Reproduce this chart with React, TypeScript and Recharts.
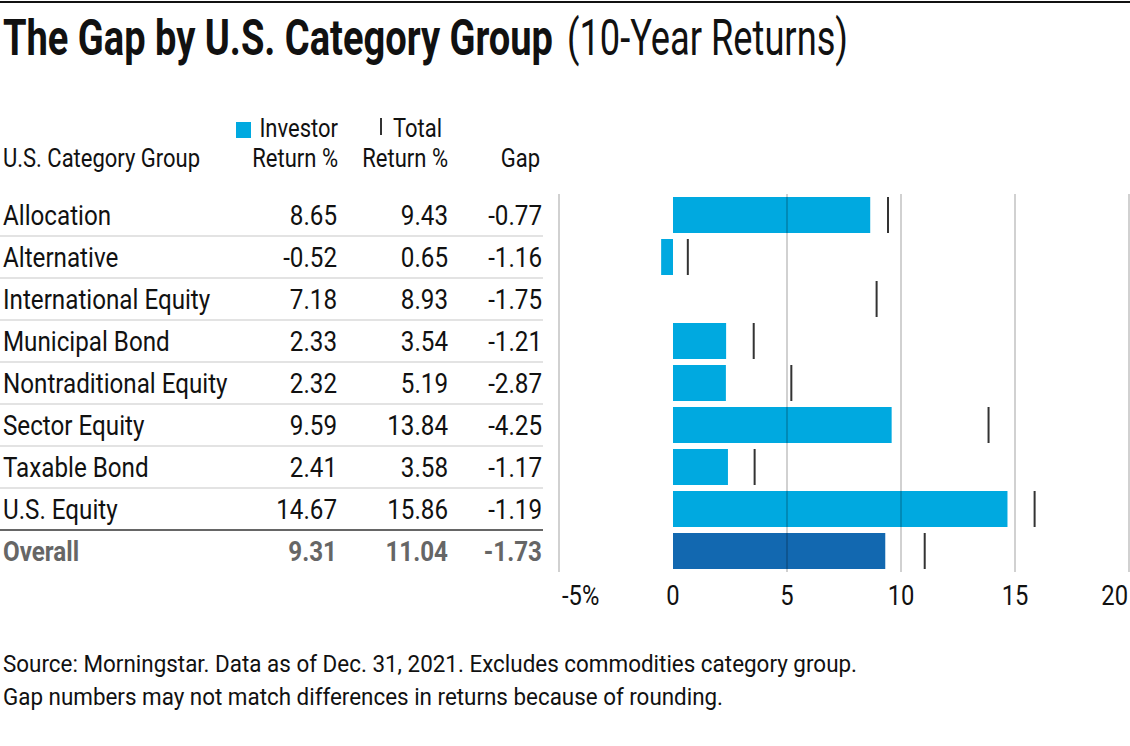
import React from "react";
import {
  ComposedChart,
  Bar,
  Cell,
  Scatter,
  XAxis,
  YAxis,
  ReferenceLine,
} from "recharts";

const categories = [
  "Allocation",
  "Alternative",
  "International Equity",
  "Municipal Bond",
  "Nontraditional Equity",
  "Sector Equity",
  "Taxable Bond",
  "U.S. Equity",
  "Overall",
];
const investorReturn = [8.65, -0.52, 7.18, 2.33, 2.32, 9.59, 2.41, 14.67, 9.31];
const totalReturn = [9.43, 0.65, 8.93, 3.54, 5.19, 13.84, 3.58, 15.86, 11.04];
const gapValues = [-0.77, -1.16, -1.75, -1.21, -2.87, -4.25, -1.17, -1.19, -1.73];
const xTicks = [-5, 0, 5, 10, 15, 20];
const gridValues = [-5, 5, 10, 15, 20];
// the source graphic shows no investor bar for this row
const missingBars = ["International Equity"];
const summaryRow = "Overall";

const rows = categories.map((name, i) => ({
  name,
  investor: investorReturn[i],
  total: totalReturn[i],
  gap: gapValues[i],
}));

const FONT = "Roboto, 'Noto Sans', sans-serif";
const BLUE = "#00A9E0";
const DARK_BLUE = "#1268B0";

function CText({
  x,
  y,
  anchor = "start",
  size = 27.5,
  weight = 400,
  fill = "#111",
  sx = 0.88,
  width,
  children,
}: any) {
  return (
    <text
      transform={`translate(${x},${y}) scale(${sx},1)`}
      textAnchor={anchor}
      fontSize={size}
      fontWeight={weight}
      fill={fill}
      fontFamily={FONT}
      textLength={width ? width / sx : undefined}
      lengthAdjust={width ? "spacingAndGlyphs" : undefined}
    >
      {children}
    </text>
  );
}

const fmt = (v: number) => v.toFixed(2);

function RowTick(props: any) {
  const { y, payload } = props;
  const i = categories.indexOf(payload.value);
  const row = rows[i];
  const isSummary = row.name === summaryRow;
  const fill = isSummary ? "#666" : "#111";
  const weight = isSummary ? 700 : 400;
  const base = y + 9.5;
  return (
    <g>
      <CText x={3} y={base} fill={fill} weight={weight}>
        {row.name}
      </CText>
      <CText x={337} y={base} anchor="end" fill={fill} weight={weight}>
        {fmt(row.investor)}
      </CText>
      <CText x={448} y={base} anchor="end" fill={fill} weight={weight}>
        {fmt(row.total)}
      </CText>
      <CText x={542} y={base} anchor="end" fill={fill} weight={weight}>
        {fmt(row.gap)}
      </CText>
      {i < rows.length - 1 && (
        <line
          x1={0}
          x2={543}
          y1={y + 21}
          y2={y + 21}
          stroke={i === rows.length - 2 ? "#333" : "#c8c8c8"}
          strokeWidth={i === rows.length - 2 ? 1.5 : 1.2}
        />
      )}
    </g>
  );
}

function XTick(props: any) {
  const { x, payload, index } = props;
  const first = index === 0;
  const last = index === xTicks.length - 1;
  const label = first ? `${payload.value}%` : `${payload.value}`;
  return (
    <CText
      x={first ? x + 3 : last ? x - 1 : x}
      y={605}
      anchor={first ? "start" : last ? "end" : "middle"}
      size={27}
    >
      {label}
    </CText>
  );
}

const TotalMark = (p: any) => (
  <rect x={p.cx - 1} y={p.cy - 18} width={2} height={36} fill="#333" />
);

export default function App() {
  return (
    <div
      style={{
        position: "absolute",
        left: 0,
        top: 0,
        width: 1130,
        height: 746,
        background: "#fff",
      }}
    >
      <svg
        width={1130}
        height={746}
        style={{ position: "absolute", left: 0, top: 0 }}
      >
        <rect x={0} y={1} width={1130} height={2} fill="#111" />
        <CText x={3} y={55} size={50} weight={700} sx={0.8} width={550}>
          The Gap by U.S. Category Group
        </CText>
        <CText x={567} y={55} size={50} sx={0.76} width={281}>
          (10-Year Returns)
        </CText>

        <CText x={3} y={167} size={25} sx={0.88}>
          U.S. Category Group
        </CText>
        <rect x={236} y={122} width={15} height={16} fill={BLUE} />
        <CText x={338} y={137} size={25} anchor="end">
          Investor
        </CText>
        <CText x={338} y={167} size={25} anchor="end">
          Return %
        </CText>
        <rect x={380} y={118} width={2} height={17} fill="#333" />
        <CText x={442} y={137} size={25} anchor="end">
          Total
        </CText>
        <CText x={448} y={167} size={25} anchor="end">
          Return %
        </CText>
        <CText x={540} y={167} size={25} anchor="end">
          Gap
        </CText>

        <CText x={3} y={672} size={24} sx={0.86} width={854}>
          Source: Morningstar. Data as of Dec. 31, 2021. Excludes commodities
          category group.
        </CText>
        <CText x={3} y={705} size={24} sx={0.86} width={720}>
          Gap numbers may not match differences in returns because of rounding.
        </CText>
      </svg>

      <div style={{ position: "absolute", left: 0, top: 0 }}>
        <ComposedChart
          width={1130}
          height={746}
          data={rows}
          layout="vertical"
          margin={{ top: 194, right: 1, bottom: 144, left: 0 }}
        >
          <XAxis
            type="number"
            domain={[-5, 20]}
            ticks={xTicks}
            allowDataOverflow
            axisLine={false}
            tickLine={false}
            height={30}
            tick={<XTick />}
            interval={0}
          />
          <YAxis
            type="category"
            dataKey="name"
            width={559}
            axisLine={false}
            tickLine={false}
            tick={<RowTick />}
            interval={0}
          />
          <Bar dataKey="investor" barSize={36} isAnimationActive={false}>
            {rows.map((r) => (
              <Cell
                key={r.name}
                fill={
                  missingBars.includes(r.name)
                    ? "none"
                    : r.name === summaryRow
                    ? DARK_BLUE
                    : BLUE
                }
              />
            ))}
          </Bar>
          <Scatter
            dataKey="total"
            shape={TotalMark}
            isAnimationActive={false}
          />
          {gridValues.map((v) => (
            <ReferenceLine
              key={v}
              x={v}
              stroke="#000"
              strokeOpacity={0.28}
              strokeWidth={1.3}
            />
          ))}
        </ComposedChart>
      </div>
    </div>
  );
}
